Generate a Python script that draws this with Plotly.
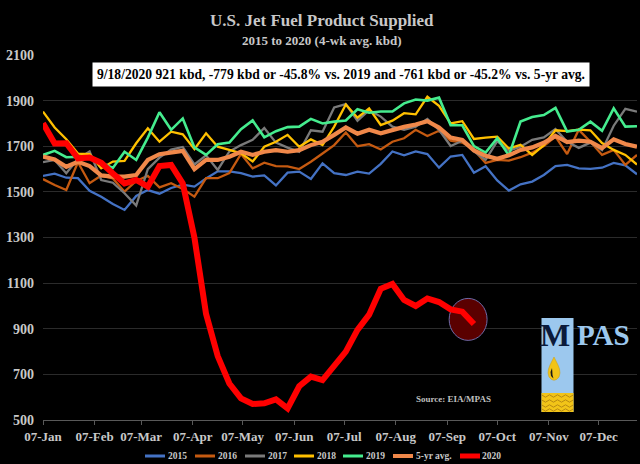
import plotly.graph_objects as go
import pandas as pd

# ---------------- data (kbd, 4-wk avg) ----------------
weeks = pd.date_range("2019-01-07", periods=52, freq="7D")

y2015 = [1570, 1580, 1562, 1560, 1505, 1479, 1447, 1421, 1482, 1508, 1492, 1517, 1532, 1523,
         1559, 1590, 1590, 1582, 1567, 1572, 1528, 1584, 1589, 1557, 1625, 1582, 1574, 1589,
         1580, 1623, 1677, 1660, 1677, 1666, 1606, 1655, 1662, 1584, 1612, 1550, 1506, 1533,
         1545, 1574, 1613, 1618, 1603, 1601, 1606, 1627, 1616, 1577]
y2016 = [1556, 1530, 1508, 1630, 1538, 1572, 1559, 1501, 1548, 1570, 1520, 1538, 1513, 1479,
         1560, 1560, 1582, 1666, 1603, 1628, 1613, 1612, 1600, 1632, 1668, 1705, 1760, 1700,
         1709, 1686, 1720, 1735, 1772, 1745, 1768, 1725, 1716, 1684, 1627, 1640, 1637, 1652,
         1672, 1701, 1742, 1666, 1772, 1720, 1662, 1684, 1618, 1662]
y2017 = [1630, 1640, 1582, 1645, 1677, 1552, 1540, 1494, 1440, 1600, 1650, 1685, 1697, 1620,
         1660, 1596, 1677, 1705, 1728, 1780, 1716, 1694, 1676, 1770, 1764, 1870, 1885, 1812,
         1858, 1830, 1786, 1772, 1786, 1820, 1772, 1701, 1724, 1678, 1640, 1722, 1680, 1698,
         1728, 1739, 1775, 1720, 1693, 1716, 1683, 1790, 1864, 1852]
y2018 = [1852, 1782, 1731, 1668, 1665, 1603, 1633, 1636, 1713, 1779, 1720, 1764, 1752, 1687,
         1757, 1698, 1684, 1669, 1633, 1698, 1720, 1750, 1698, 1730, 1705, 1786, 1883, 1825,
         1866, 1793, 1812, 1845, 1840, 1917, 1877, 1800, 1810, 1732, 1738, 1742, 1690, 1706,
         1662, 1705, 1770, 1766, 1773, 1770, 1714, 1684, 1662, 1620]
y2019 = [1662, 1680, 1652, 1652, 1655, 1628, 1605, 1676, 1640, 1738, 1849, 1772, 1822, 1695,
         1662, 1709, 1716, 1775, 1813, 1739, 1766, 1784, 1786, 1820, 1800, 1808, 1813, 1862,
         1847, 1852, 1852, 1888, 1905, 1900, 1913, 1792, 1792, 1701, 1672, 1735, 1660, 1808,
         1828, 1837, 1868, 1764, 1772, 1808, 1768, 1866, 1786, 1788]
y5yr = [1655, 1642, 1610, 1632, 1613, 1572, 1567, 1567, 1574, 1640, 1665, 1672, 1680, 1600,
        1640, 1640, 1654, 1676, 1662, 1676, 1683, 1676, 1683, 1705, 1720, 1750, 1782, 1755,
        1772, 1757, 1772, 1785, 1795, 1810, 1782, 1738, 1728, 1682, 1658, 1645, 1660, 1684,
        1695, 1715, 1745, 1718, 1725, 1720, 1692, 1730, 1710, 1698]
y2020 = [1801, 1712, 1713, 1647, 1651, 1628, 1581, 1537, 1552, 1523, 1613, 1618, 1537, 1300,
         965, 780, 660, 595, 570, 573, 590, 551, 648, 690, 675, 735, 800, 895,
         962, 1075, 1096, 1026, 1000, 1033, 1017, 985, 975, 921]

series_names = ["2015", "2016", "2017", "2018", "2019", "5-yr avg.", "2020"]
series_vals = [y2015, y2016, y2017, y2018, y2019, y5yr, y2020]
series_colors = ["#4472C4", "#C55A11", "#7A7A7A", "#FFC000", "#45EC8E", "#F0884A", "#FF0000"]
series_widths = [2.3, 2.3, 2.3, 2.3, 2.6, 4.2, 6]

note_text = "9/18/2020 921 kbd, -779 kbd or -45.8% vs. 2019 and -761 kbd or -45.2% vs. 5-yr avg."
title_text = "U.S. Jet Fuel Product Supplied"
subtitle_text = "2015 to 2020 (4-wk avg. kbd)"
source_text = "Source: EIA/MPAS"

# ---------------- layout helpers ----------------
W, H = 640, 464
ML, MR, MT, MB = 43, 3, 55, 44
PW, PH = W - ML - MR, H - MT - MB


def fx(x):
    return (x - ML) / PW


def fy(y):
    return (H - MB - y) / PH


FONT = "Liberation Serif"
TXT = "#C8C8C8"

fig = go.Figure()
for name, vals, col, lw in zip(series_names, series_vals, series_colors, series_widths):
    fig.add_trace(go.Scatter(
        x=weeks[:len(vals)], y=vals, name=name, mode="lines",
        line=dict(color=col, width=lw), hoverinfo="skip", showlegend=False))

# highlight circle around the latest 2020 value
last_x = weeks[len(y2020) - 1]
last_y = y2020[-1]
cx = last_x - pd.Timedelta(days=3.5)
cy = last_y + 20
shapes = [dict(type="circle", xref="x", yref="y", layer="between",
               x0=cx - pd.Timedelta(days=11.4), x1=cx + pd.Timedelta(days=11.4),
               y0=cy - 92, y1=cy + 92,
               fillcolor="#5A0000", line=dict(color="#6E6AA8", width=1))]

# MPAS logo
shapes.append(dict(type="rect", xref="paper", yref="paper", layer="above",
                   x0=fx(541.5), x1=fx(573.5), y0=fy(412), y1=fy(318),
                   fillcolor="#9CC8EE", line=dict(width=0)))
shapes.append(dict(type="rect", xref="paper", yref="paper", layer="above",
                   x0=fx(541.5), x1=fx(573.5), y0=fy(412), y1=fy(393),
                   fillcolor="#F2C418", line=dict(width=0)))


def ppath(pts, close=True):
    s = "M %.5f,%.5f" % (fx(pts[0][0]), fy(pts[0][1]))
    for p in pts[1:]:
        s += " L %.5f,%.5f" % (fx(p[0]), fy(p[1]))
    return s + (" Z" if close else "")


drop = [(554, 357), (552, 361), (550, 365), (548.5, 369), (548, 373), (549, 377),
        (551.5, 379.5), (554, 380.3), (556.5, 379.5), (559, 377), (560, 373),
        (559.5, 369), (558, 365), (556, 361)]
shapes.append(dict(type="path", xref="paper", yref="paper", layer="above",
                   path=ppath(drop), fillcolor="#F2C418", line=dict(color="#C89A10", width=0.5)))
crescent = [(552, 368), (550.5, 372), (551, 376), (553.5, 378.5), (552.5, 375), (552.3, 371)]
shapes.append(dict(type="path", xref="paper", yref="paper", layer="above",
                   path=ppath(crescent), fillcolor="#1A1A1A", line=dict(width=0)))
for wy in [396, 401, 406, 410]:
    pts = []
    for k in range(9):
        xx = 541.5 + k * 4
        pts.append((xx, wy + (1.2 if k % 2 else -1.2)))
    shapes.append(dict(type="path", xref="paper", yref="paper", layer="above",
                       path=ppath(pts, close=False), line=dict(color="#B88A12", width=1)))

annotations = [
    dict(text="<b>%s</b>" % title_text, xref="paper", yref="paper", x=fx(322), y=fy(20),
         showarrow=False, font=dict(family=FONT, size=17, color=TXT), xanchor="center", yanchor="middle"),
    dict(text="<b>%s</b>" % subtitle_text, xref="paper", yref="paper", x=fx(322), y=fy(40),
         showarrow=False, font=dict(family=FONT, size=13, color=TXT), xanchor="center", yanchor="middle"),
    dict(text="<b>%s</b>" % note_text, xref="paper", yref="paper", x=fx(340.5), y=fy(74.5),
         showarrow=False, font=dict(family=FONT, size=13.6, color="black"),
         bgcolor="white", borderpad=4, xanchor="center", yanchor="middle"),
    dict(text="<b>%s</b>" % source_text, xref="paper", yref="paper", x=fx(453), y=fy(399),
         showarrow=False, font=dict(family=FONT, size=9, color="#BFBFBF"), xanchor="center", yanchor="middle"),
    dict(text="<b>M</b>", xref="paper", yref="paper", x=fx(555), y=fy(335),
         showarrow=False, font=dict(family=FONT, size=32, color="#0B1A3A"), xanchor="center", yanchor="middle"),
    dict(text="<b>PAS</b>", xref="paper", yref="paper", x=fx(574.5), y=fy(335),
         showarrow=False, font=dict(family=FONT, size=29, color="#9CC8EE"), xanchor="left", yanchor="middle"),
]

# custom compact legend (line sample + label)
leg_line_x = [145, 195, 245, 294, 343, 393, 460]
leg_line_w = [3, 3, 3, 3, 3, 4, 5]
LEG_Y = 456
for name, col, lx, lw in zip(series_names, series_colors, leg_line_x, leg_line_w):
    shapes.append(dict(type="line", xref="paper", yref="paper", layer="above",
                       x0=fx(lx), x1=fx(lx + 20), y0=fy(LEG_Y), y1=fy(LEG_Y),
                       line=dict(color=col, width=lw)))
    annotations.append(dict(text="<b>%s</b>" % name, xref="paper", yref="paper",
                            x=fx(lx + 20.5), y=fy(LEG_Y), showarrow=False,
                            xanchor="left", yanchor="middle",
                            font=dict(family=FONT, size=9.5, color=TXT)))

fig.update_layout(
    width=W, height=H,
    margin=dict(l=ML, r=MR, t=MT, b=MB, pad=0, autoexpand=False),
    paper_bgcolor="black", plot_bgcolor="black",
    showlegend=False,
    shapes=shapes, annotations=annotations,
    xaxis=dict(type="date", range=["2019-01-07", "2019-12-30"], tick0="2019-01-07", dtick="M1",
               tickformat="%d-%b", showgrid=False, zeroline=False, automargin=False,
               showline=True, linecolor="#595959", linewidth=1,
               ticks="outside", ticklen=4, tickcolor="#595959",
               tickfont=dict(family=FONT, size=13, color=TXT, weight="bold")),
    yaxis=dict(range=[500, 2100], dtick=200, tick0=500, showgrid=True, gridcolor="#2B2B2B",
               gridwidth=1, zeroline=False, showline=False, ticks="", automargin=False,
               ticklabelstandoff=8,
               tickfont=dict(family=FONT, size=14, color=TXT, weight="bold")),
)

fig.write_html("out.html", config={"displayModeBar": False},
               post_script="document.body.style.margin='0px';document.body.style.background='black';")
